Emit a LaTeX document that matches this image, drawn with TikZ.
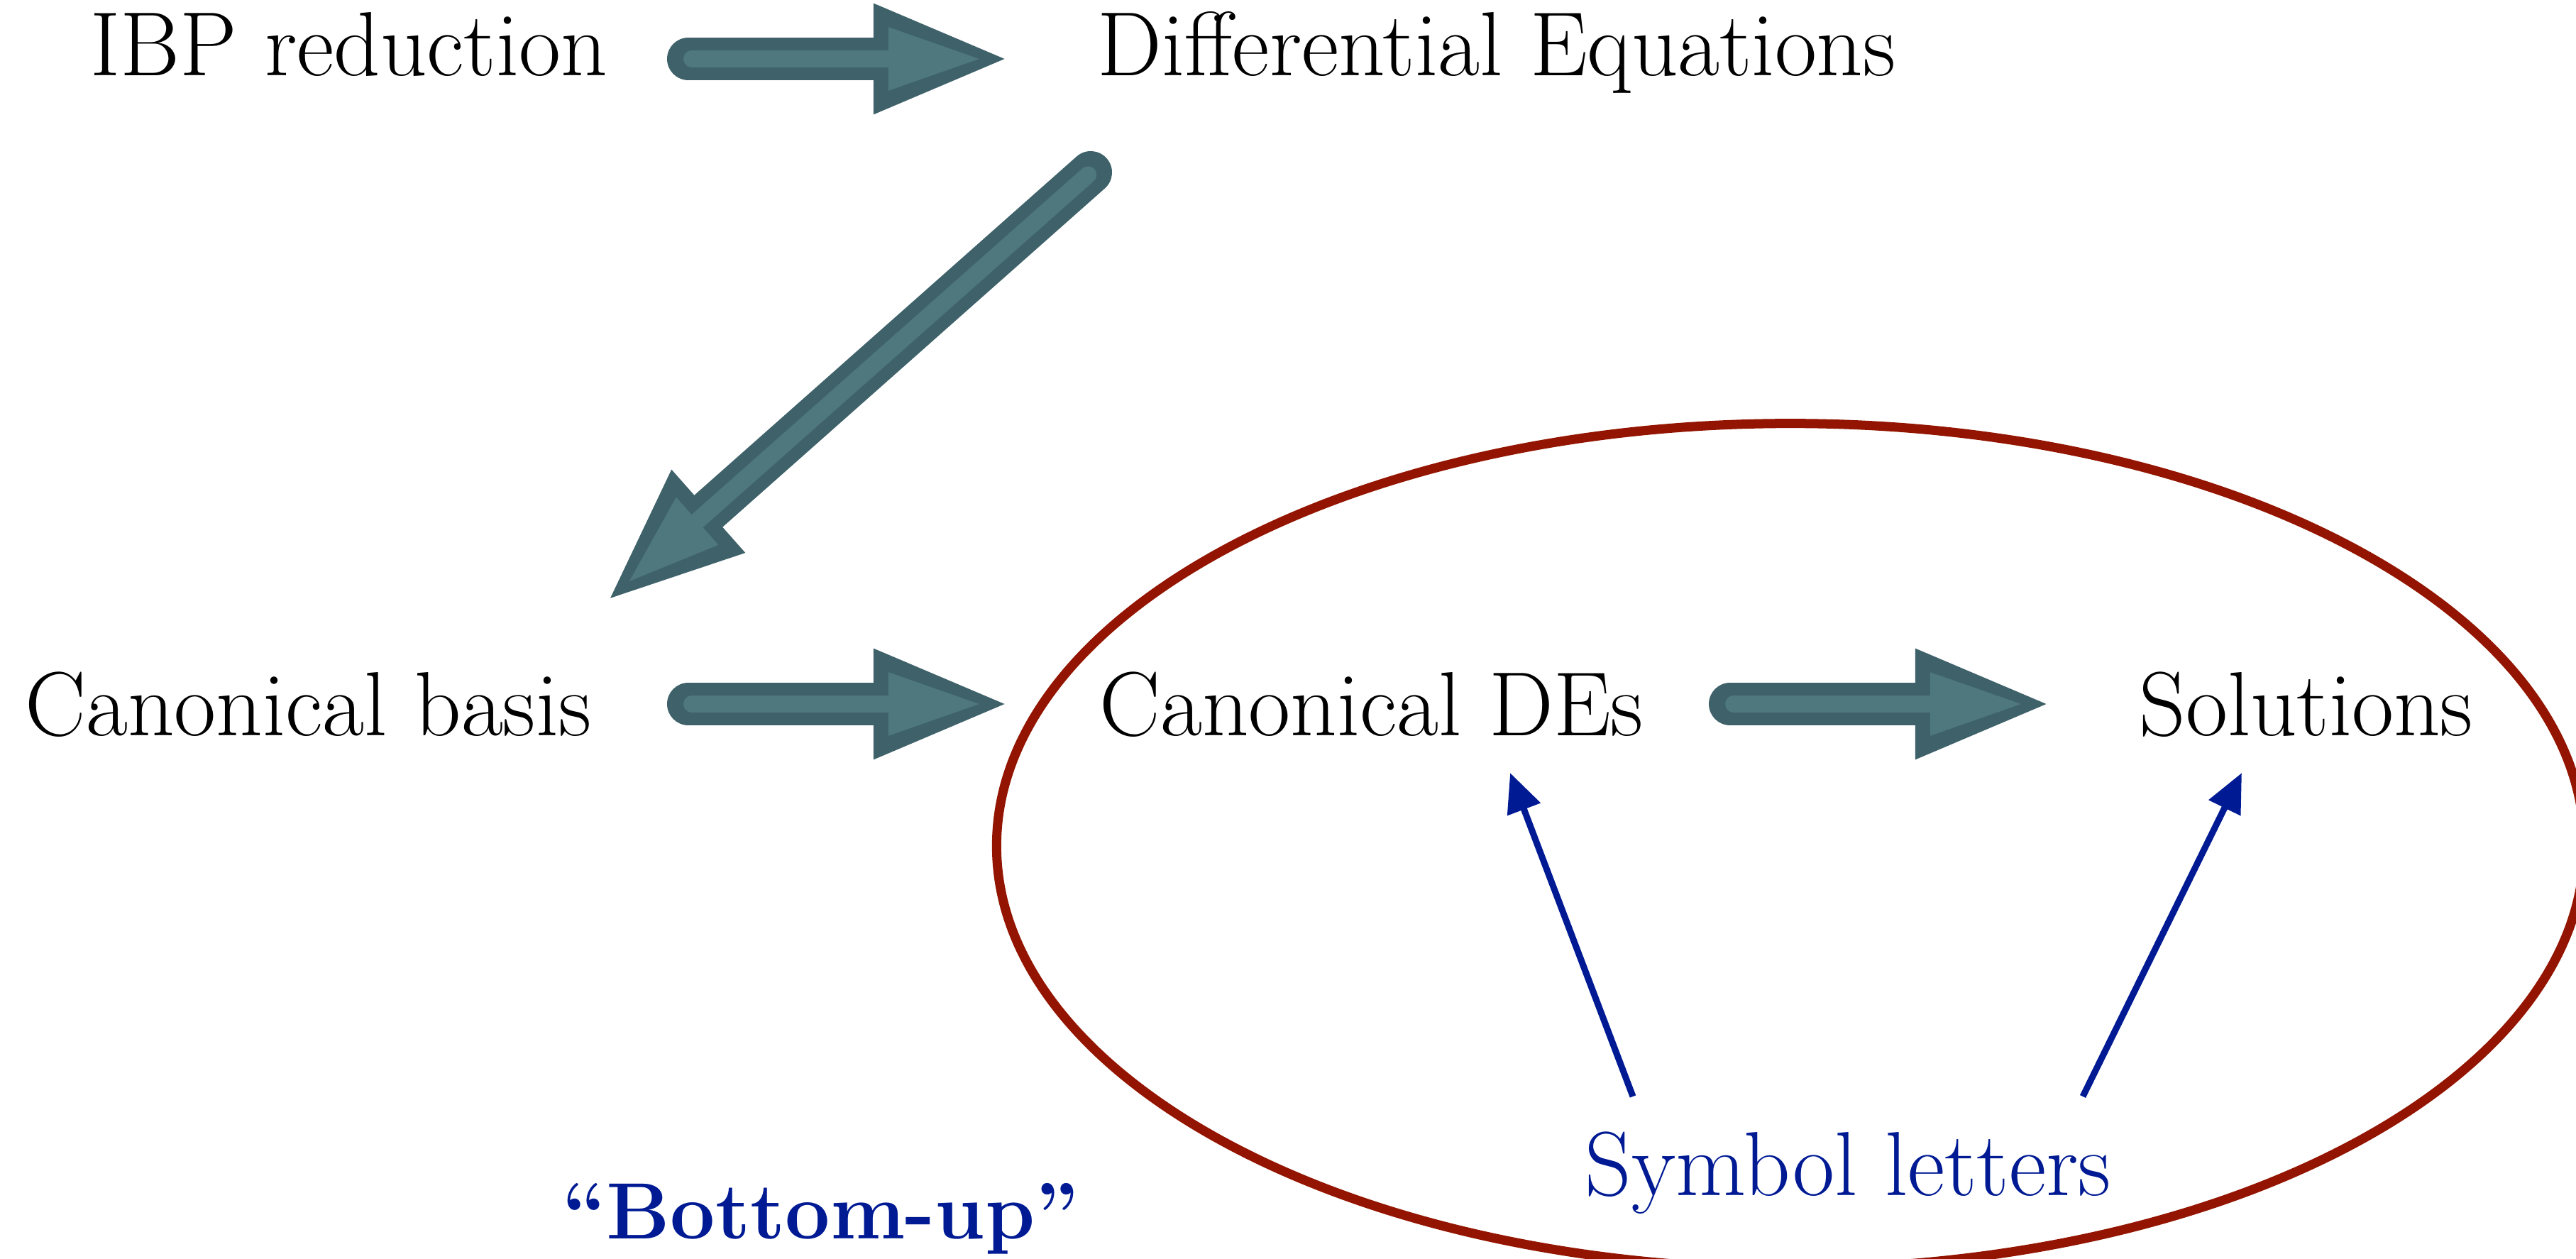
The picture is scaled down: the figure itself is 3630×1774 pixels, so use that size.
\documentclass[tikz,border=0pt]{standalone}
\usepackage{fontspec}
\usetikzlibrary{arrows.meta,calc}
\definecolor{tealD}{HTML}{3F626A}
\definecolor{tealL}{HTML}{4E787D}
\definecolor{redc}{HTML}{931400}
\definecolor{bluec}{HTML}{001A94}
\tikzset{
  lbl/.style={anchor=base west, inner sep=0pt, font=\fontsize{36.5pt}{44pt}\selectfont},
  bluelbl/.style={lbl, text=bluec},
  fatouter/.style={draw=tealD, line width=0.6cm, line cap=round,
     -{Triangle[length=1.94cm,width=1.40cm]}},
  fatinner/.style={draw=tealL, line width=0.24cm, line cap=round,
     shorten >=0.41cm, shorten <=0.05cm,
     -{Triangle[length=1.32cm,width=0.82cm]}},
  thinblue/.style={draw=bluec, line width=0.09cm,
     -{Triangle[length=0.55cm,width=0.48cm]}},
}
\begin{document}
\begin{tikzpicture}[x=0.01cm,y=-0.01cm]
\useasboundingbox (0,0) rectangle (3630,1774);
% ellipse
\draw[redc, line width=0.13cm] (2523,1192) ellipse [x radius=11.18cm, y radius=5.95cm];
% labels
\node[lbl] (ibp) at (127,107) {IBP reduction};
\node[lbl] (deq) at (1546,107) {Differential Equations};
\node[lbl] (cb)  at (35,1037) {Canonical basis};
\node[lbl] (cde) at (1549,1037) {Canonical DEs};
\node[lbl] (sol) at (3014,1037) {Solutions};
\node[bluelbl] (sym) at (2233,1684) {Symbol letters};
\node[bluelbl, font=\fontsize{32pt}{38pt}\selectfont\bfseries] (bu) at (792,1745) {“Bottom-up”};
% arrow end points
\coordinate (a1s) at (970,83);   \coordinate (a1e) at (1425,83);
\coordinate (a2s) at (1537,243); \coordinate (a2e) at (853,849);
\coordinate (a3s) at (970,992);  \coordinate (a3e) at (1425,992);
\coordinate (a4s) at (2438,992); \coordinate (a4e) at (2893,992);
\coordinate (b1s) at (2301,1545); \coordinate (b1e) at (2128,1089);
\coordinate (b2s) at (2935,1545); \coordinate (b2e) at (3159,1089);
% teal arrows
\foreach \s/\e in {a1s/a1e, a2s/a2e, a3s/a3e, a4s/a4e}{
  \draw[fatouter] (\s) -- (\e);
  \draw[fatinner] (\s) -- (\e);
}
% blue arrows
\draw[thinblue] (b1s) -- (b1e);
\draw[thinblue] (b2s) -- (b2e);
\end{tikzpicture}
\end{document}
